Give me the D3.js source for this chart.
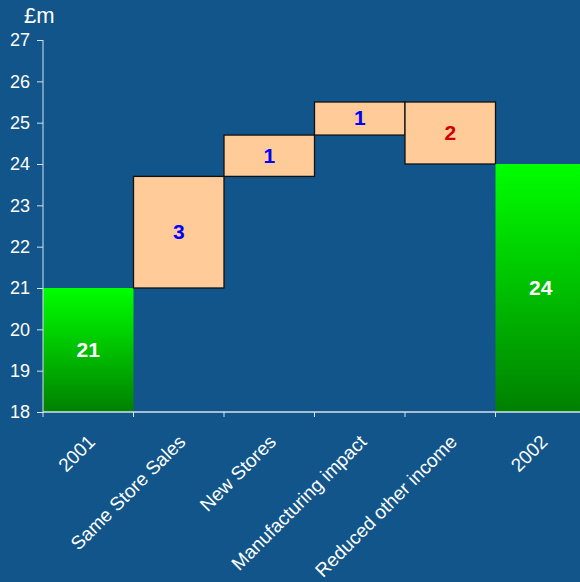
<!DOCTYPE html>
<html>
<head>
<meta charset="utf-8">
<script src="https://cdn.jsdelivr.net/npm/d3@7"></script>
<style>
  body { margin: 0; background: #11558a; }
  text { font-family: "Liberation Sans", Arial, sans-serif; }
</style>
</head>
<body>
<div class="chart"></div>
<script>
// data
const categories = ['2001', 'Same Store Sales', 'New Stores', 'Manufacturing impact', 'Reduced other income', '2002'];
const starts = [18, 21, 23.7, 24.7, 25.5, 18];
const ends = [21, 23.7, 24.7, 25.5, 24.0, 24];
const labels = ['21', '3', '1', '1', '2', '24'];
const kinds = ['total', 'up', 'up', 'up', 'down', 'total'];
const yTicks = [18, 19, 20, 21, 22, 23, 24, 25, 26, 27];

const data = categories.map((c, i) => ({name: c, start: starts[i], end: ends[i], label: labels[i], kind: kinds[i]}));

var margin = {top: 40, right: -6, bottom: 170, left: 43},
width = 580 - margin.left - margin.right,
height = 582 - margin.top - margin.bottom;

const svg = d3.select('.chart')
    .append('svg')
    .attr('width', 580)
    .attr('height', 582)

const defs = svg.append('defs')
const grad = defs.append('linearGradient')
    .attr('id', 'green')
    .attr('x1', 0).attr('y1', 0).attr('x2', 0).attr('y2', 1)
grad.append('stop').attr('offset', '0%').attr('stop-color', '#00ff00')
grad.append('stop').attr('offset', '100%').attr('stop-color', '#008000')

const g = svg.append('g')
    .attr('transform', 'translate('+margin.left+','+margin.top+')')

const xScale = d3.scaleBand()
    .domain(categories)
    .range([0, width])
    .padding(0)

const yScale = d3.scaleLinear()
    .domain([18, 27])
    .range([height, 0])

// bars
g.selectAll('rect.bar')
    .data(data)
    .enter()
    .append('rect')
    .attr('class', 'bar')
    .attr('x', d => xScale(d.name))
    .attr('width', xScale.bandwidth())
    .attr('y', d => yScale(Math.max(d.start, d.end)))
    .attr('height', d => Math.abs(yScale(d.start) - yScale(d.end)))
    .attr('fill', d => d.kind === 'total' ? 'url(#green)' : '#ffcc99')
    .attr('stroke', d => d.kind === 'total' ? 'none' : '#111')
    .attr('stroke-width', 1.3)

g.selectAll('text.val')
    .data(data)
    .enter()
    .append('text')
    .attr('class', 'val')
    .attr('x', d => xScale(d.name) + xScale.bandwidth() / 2)
    .attr('y', d => (yScale(d.start) + yScale(d.end)) / 2)
    .attr('dy', '0.33em')
    .attr('text-anchor', 'middle')
    .attr('font-size', 21)
    .attr('font-weight', 'bold')
    .attr('fill', d => d.kind === 'total' ? '#ffffff' : (d.kind === 'down' ? '#d00000' : '#0000ff'))
    .text(d => d.label)

// axes
const axisColor = '#d8e2ec'

const yAxis = g.append('g')
    .call(d3.axisLeft(yScale).tickValues(yTicks).tickSize(6).tickPadding(7))
yAxis.selectAll('.domain').attr('stroke', axisColor).attr('d', 'M0,0V' + height)
yAxis.selectAll('.tick line').attr('stroke', axisColor)
yAxis.selectAll('.tick text')
    .attr('fill', '#ffffff')
    .attr('font-size', 18)
    .style('font-family', '"Liberation Sans", Arial, sans-serif')

// x axis: ticks at band boundaries
const xAxis = g.append('g')
    .attr('transform', 'translate(0,' + height + ')')
xAxis.append('line')
    .attr('x1', 0).attr('x2', width)
    .attr('stroke', axisColor)
    .attr('stroke-width', 1.5)
xAxis.selectAll('line.tk')
    .data(categories)
    .enter()
    .append('line')
    .attr('class', 'tk')
    .attr('x1', d => xScale(d)).attr('x2', d => xScale(d))
    .attr('y1', 0).attr('y2', 5)
    .attr('stroke', axisColor)

xAxis.selectAll('text.cat')
    .data(categories)
    .enter()
    .append('text')
    .attr('class', 'cat')
    .attr('transform', d => 'translate(' + (xScale(d) + xScale.bandwidth() / 2 + 8) + ',' + 31 + ') rotate(-45)')
    .attr('text-anchor', 'end')
    .attr('font-size', 19)
    .attr('fill', '#ffffff')
    .text(d => d)

svg.append('text')
    .attr('x', 24)
    .attr('y', 23)
    .attr('font-size', 22)
    .attr('fill', '#ffffff')
    .text('£m')
</script>
</body>
</html>
